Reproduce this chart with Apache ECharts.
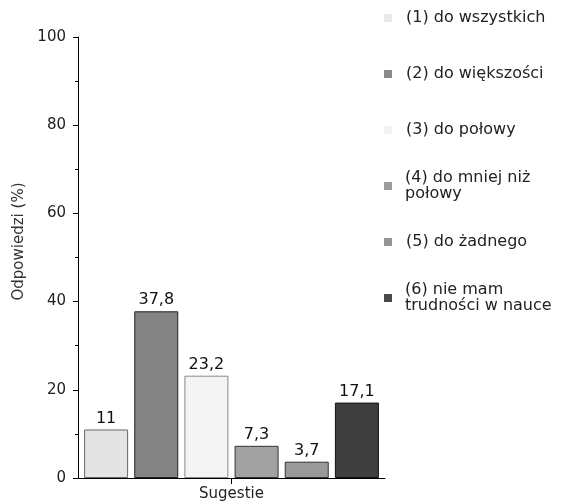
<!DOCTYPE html>
<html><head><meta charset="utf-8">
<script src="https://cdn.jsdelivr.net/npm/echarts@6/dist/echarts.min.js"></script>
<style>html,body{margin:0;padding:0;background:#fff}#c{width:580px;height:504px}</style>
</head><body><div id="c"></div>
<script>
var categories = ['Sugestie'];
var seriesNames = ['(1) do wszystkich', '(2) do większości', '(3) do połowy', '(4) do mniej niż połowy', '(5) do żadnego', '(6) nie mam trudności w nauce'];
var legendLabels = ['(1) do wszystkich', '(2) do większości', '(3) do połowy', '(4) do mniej niż\npołowy', '(5) do żadnego', '(6) nie mam\ntrudności w nauce'];
var values = [11, 37.8, 23.2, 7.3, 3.7, 17.1];
var yTicks = [0, 20, 40, 60, 80, 100];

var colors = ['#e4e4e4', '#838383', '#f4f4f4', '#a2a2a2', '#9a9a9a', '#3e3e3e'];
var borders = ['#666', '#222', '#888', '#333', '#333', '#111'];
var legendIcon = ['#e8e8e8', '#8a8a8a', '#f2f2f2', '#9c9c9c', '#959595', '#4a4a4a'];
var legendCenters = [18, 74, 130, 186, 242, 298];
var FONT = 'DejaVu Sans';

var series = seriesNames.map(function (n, i) {
  return {
    name: n, type: 'bar', barWidth: 44, barGap: '14%',
    data: [values[i]],
    itemStyle: { color: colors[i], borderColor: borders[i], borderWidth: 1 },
    label: { show: true, position: 'top', distance: 3, fontFamily: FONT, fontSize: 16, color: '#111',
      formatter: function (p) { return String(p.value).replace('.', ','); } }
  };
});

var legends = seriesNames.map(function (n, i) {
  var multi = legendLabels[i].indexOf('\n') >= 0;
  return {
    orient: 'vertical', left: 384, top: legendCenters[i] - (multi ? 24 : 8), padding: 0,
    itemWidth: 8, itemHeight: 8, icon: 'rect', selectedMode: false,
    itemStyle: { color: legendIcon[i], borderWidth: 0 },
    data: [n],
    formatter: function () { return legendLabels[i]; },
    textStyle: { fontFamily: FONT, fontSize: 16, color: '#222', lineHeight: 16, padding: multi ? [16, 0, 0, 8] : [0, 0, 0, 9] }
  };
});

var option = {
  backgroundColor: '#fff',
  animation: false,
  legend: legends,
  grid: { left: 78, right: 195, top: 37, bottom: 26, containLabel: false },
  xAxis: {
    type: 'category', data: categories,
    axisLine: { lineStyle: { color: '#000', width: 1 } },
    axisTick: { show: true, alignWithLabel: true, length: 6, inside: false, lineStyle: { color: '#000' } },
    axisLabel: { fontFamily: FONT, fontSize: 15, color: '#222', margin: 9 }
  },
  yAxis: {
    type: 'value', min: yTicks[0], max: yTicks[yTicks.length - 1], interval: 20,
    name: 'Odpowiedzi (%)', nameLocation: 'middle', nameGap: 48,
    nameTextStyle: { fontFamily: FONT, fontSize: 15, color: '#333', padding: [0, 0, 0, 32] },
    axisLine: { show: true, lineStyle: { color: '#000', width: 1 } },
    axisTick: { show: true, length: 5, lineStyle: { color: '#000' } },
    minorTick: { show: true, splitNumber: 2, length: 3, lineStyle: { color: '#000' } },
    splitLine: { show: false },
    axisLabel: { fontFamily: FONT, fontSize: 15, color: '#222', margin: 12 }
  },
  series: series
};
echarts.init(document.getElementById('c'), null, { renderer: 'canvas' }).setOption(option);
</script></body></html>
